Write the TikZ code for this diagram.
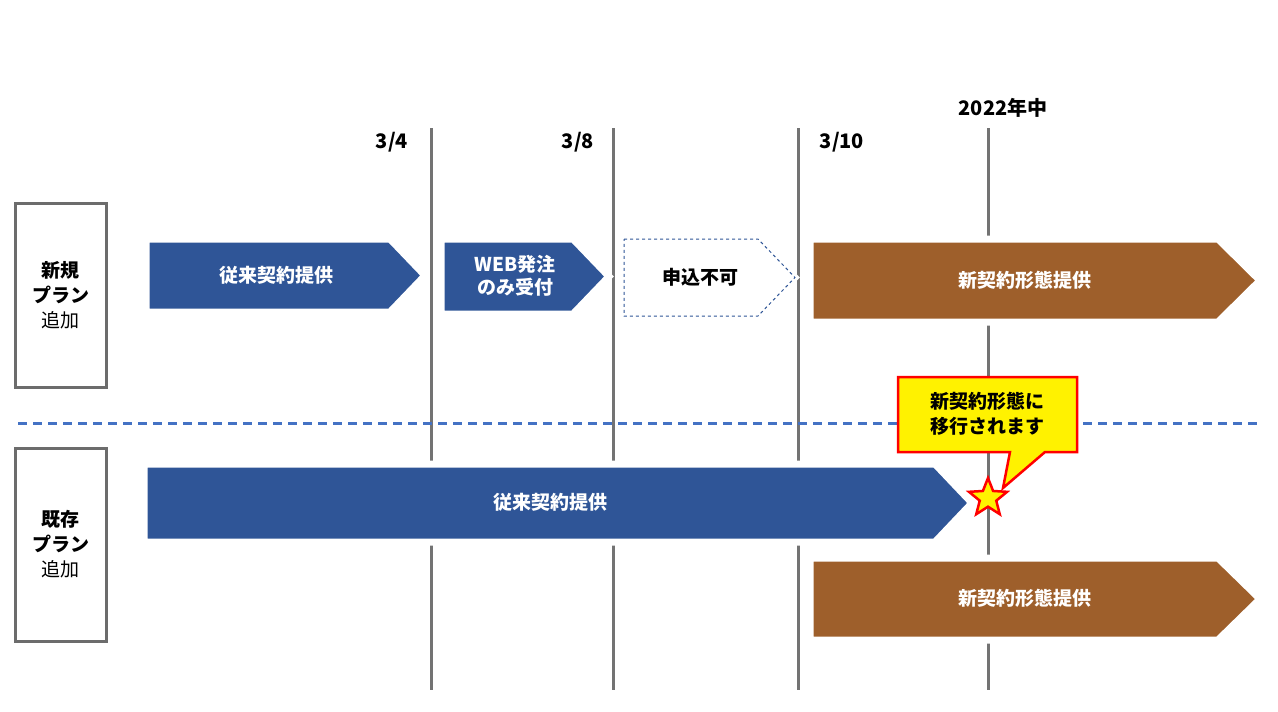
\documentclass[tikz,border=0pt]{standalone}
\usepackage{fontspec}
\setmainfont{Noto Sans CJK JP}
\newfontfamily\jpb{Noto Sans CJK JP}[BoldFont=* Bold]
\usetikzlibrary{shapes.geometric}
\definecolor{navy}{HTML}{2F5597}
\definecolor{brn}{HTML}{9E5F2B}
\definecolor{dsh}{HTML}{4472C4}
\begin{document}
\begin{tikzpicture}[x=1pt,y=-1pt,
 vline/.style={draw=gray!90!black,line width=3pt},
 arr/.style={draw=white,line width=7pt},
 lbl/.style={font=\fontsize{19}{22}\selectfont\bfseries,text=white,align=center},
 hd/.style={font=\fontsize{20}{24}\selectfont\bfseries},
 side/.style={draw=gray!85!black,line width=3pt,fill=white}]
\useasboundingbox (0,0) rectangle (1278,712);
\foreach \x/\n in {431/a,613/b,798/c,988/d}{\draw[vline] (\x,128) coordinate (t\n) -- (\x,690) coordinate (b\n);}
\draw[dsh,line width=3pt,dash pattern=on 9pt off 6pt] (18,423) coordinate (d1) -- (1258,423) coordinate (d2);
\node[side,minimum width=91pt,minimum height=184pt,font=\fontsize{19}{25}\selectfont,align=center] (s1) at (60.5,295) {\textbf{新規}\\\textbf{プラン}\\追加};
\node[side,minimum width=91pt,minimum height=193pt,font=\fontsize{19}{25}\selectfont,align=center] (s2) at (60.5,544.5) {\textbf{既存}\\\textbf{プラン}\\追加};
\filldraw[arr,fill=navy] (146,239)--(390,239)--(425,275.5)--(390,312)--(146,312)--cycle;
\node[lbl] (l1) at (276,275) {従来契約提供};
\filldraw[arr,fill=navy] (441,239)--(573,239)--(609,276.5)--(573,314)--(441,314)--cycle;
\node[lbl,font=\fontsize{19}{23}\selectfont\bfseries] (l2) at (515,276) {WEB発注\\のみ受付};
\draw[arr] (624,239)--(758,239)--(795,277.5)--(758,316)--(624,316)--cycle;
\draw[navy,dashed,line width=1pt,fill=white] (624,239)--(758,239)--(795,277.5)--(758,316)--(624,316)--cycle;
\node[lbl,text=black] (l3) at (700,277) {申込不可};
\filldraw[arr,fill=brn] (810,239)--(1218,239)--(1260,280.5)--(1218,322)--(810,322)--cycle;
\node[lbl] (l4) at (1025,280) {新契約形態提供};
\filldraw[arr,fill=navy] (144,464)--(935,464)--(972,503)--(935,542)--(144,542)--cycle;
\node[lbl] (l5) at (550,502) {従来契約提供};
\filldraw[arr,fill=brn] (810,558)--(1218,558)--(1260,599)--(1218,640)--(810,640)--cycle;
\node[lbl] (l6) at (1025,598) {新契約形態提供};
\node[hd] (h1) at (392,142) {3/4};
\node[hd] (h2) at (578,142) {3/8};
\node[hd] (h3) at (842,142) {3/10};
\node[hd] (h4) at (1003,108) {2022年中};
\node[star,star points=5,star point ratio=2.3,minimum size=40pt,inner sep=0pt,fill=yellow,draw=red,line width=2.5pt] (st) at (988,498) {};
\filldraw[fill=yellow,draw=red,line width=2.5pt] (898,377)--(1077,377)--(1077,452)--(1045,452)--(1003,488)--(1010,452)--(898,452)--cycle;
\node[font=\fontsize{19}{25}\selectfont\bfseries,align=left] (co) at (987.5,414) {新契約形態に\\移行されます};
\end{tikzpicture}
\end{document}
